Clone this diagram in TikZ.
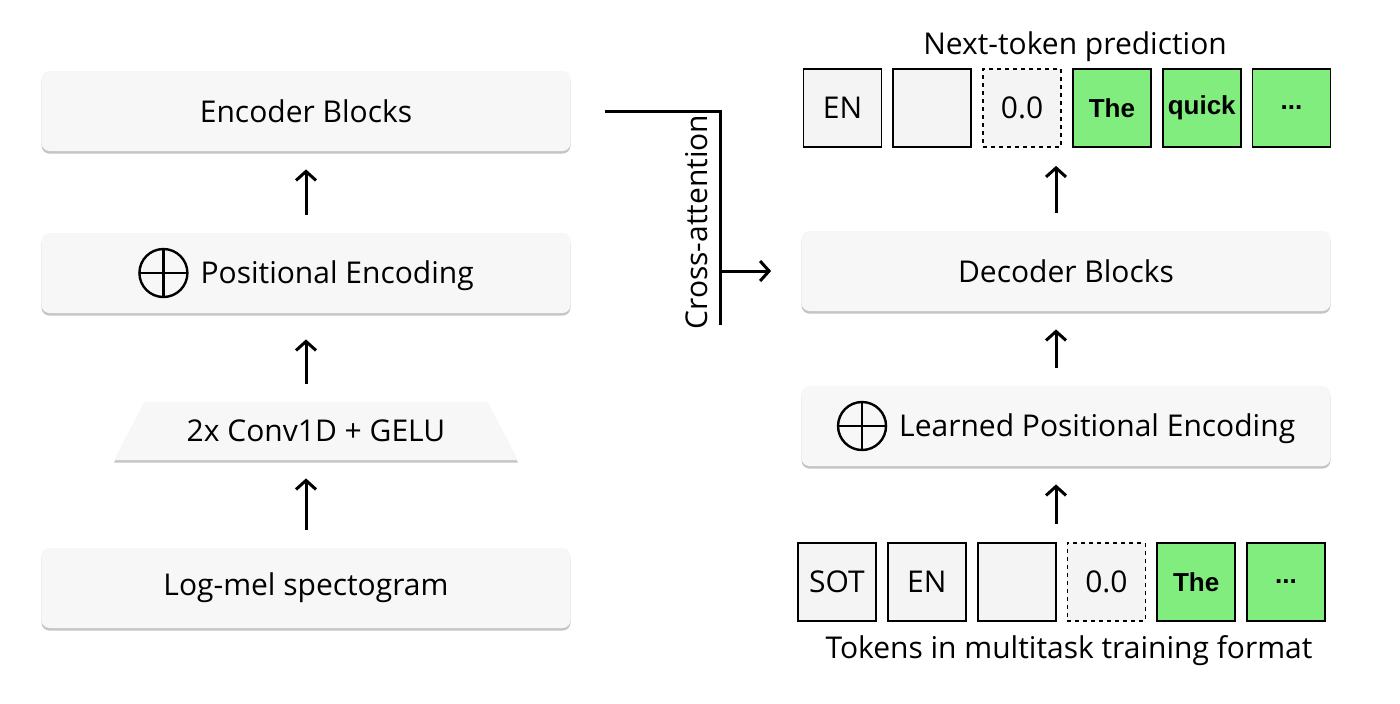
\documentclass[tikz,border=0pt]{standalone}
\usepackage{fontspec}
\setmainfont{Open Sans}
\newfontfamily\grassetto{Liberation Sans}
\usetikzlibrary{positioning,shapes.geometric,shadows,arrows.meta}

\definecolor{grigiobox}{RGB}{247,247,247}
\definecolor{grigiotok}{RGB}{244,244,244}
\definecolor{verdetok}{RGB}{128,237,126}

% simbolo della somma (cerchio con croce)
\newcommand{\simbolosomma}{\tikz[baseline=-0.35em, line width=1.2pt]{\draw (0,0) circle (12pt); \draw (-12pt,0) -- (12pt,0) (0,-12pt) -- (0,12pt);}}

\begin{document}
\begin{tikzpicture}[
		x=0.5pt, y=-0.5pt,
		font=\fontsize{15}{18}\selectfont,
		% Stile per i blocchi grandi (encoder / decoder)
		blocco/.style={rectangle, rounded corners=4pt, fill=grigiobox, minimum width=264.5pt, minimum height=40pt,
			drop shadow={shadow xshift=0pt, shadow yshift=-1.3pt, fill=black!45, opacity=0.5}},
		% Stile per il trapezio della convoluzione
		trapezio/.style={trapezium, trapezium angle=56, trapezium stretches=true, fill=grigiobox,
			minimum width=202pt, minimum height=29pt,
			drop shadow={shadow xshift=0pt, shadow yshift=-1.3pt, fill=black!45, opacity=0.5}},
		% Stile per i token
		token/.style={rectangle, draw=black, line width=0.9pt, fill=grigiotok, minimum size=39pt, inner sep=0pt},
		tokenverde/.style={token, fill=verdetok, font=\grassetto\fontsize{13}{15}\selectfont\bfseries},
		tokentratt/.style={token, dash pattern=on 2pt off 2pt},
		% Stile per le frecce
		freccia/.style={line width=1.5pt, -{Straight Barb[length=4.5pt, width=10pt]}, shorten >=9pt, shorten <=9pt},
		linea/.style={line width=1.5pt}
	]

	\useasboundingbox[fill=white] (0,0) rectangle (1400,703);

	% =================================
	% COLONNA SINISTRA (Encoder)
	% =================================
	\node[blocco] (enc) at (306,111) {Encoder Blocks};
	\node[blocco] (pos) at (306,273) {\simbolosomma\hspace{6pt}Positional Encoding};
	\node[trapezio] (conv) at (316,431) {2x Conv1D + GELU};
	\node[blocco] (mel) at (306,588) {Log-mel spectogram};

	% =================================
	% COLONNA DESTRA (Decoder)
	% =================================
	\node[blocco] (dec) at (1066,271) {Decoder Blocks};
	\node[blocco] (lpe) at (1066,426) {\simbolosomma\hspace{6pt}Learned Positional Encoding};

	% Token in alto (predizione)
	\node[token] (o1) at (842.5,108) {EN};
	\node[token, right=5pt of o1] (o2) {};
	\node[tokentratt, right=5pt of o2] (o3) {0.0};
	\node[tokenverde, right=5pt of o3] (o4) {The};
	\node[tokenverde, right=5pt of o4] (o5) {quick};
	\node[tokenverde, right=5pt of o5] (o6) {...};
	\node (titolo) at (1075,47) {Next-token prediction};

	% Token in basso (ingresso)
	\node[token] (i1) at (837,582) {SOT};
	\node[token, right=5pt of i1] (i2) {EN};
	\node[token, right=5pt of i2] (i3) {};
	\node[tokentratt, right=5pt of i3] (i4) {0.0};
	\node[tokenverde, right=5pt of i4] (i5) {The};
	\node[tokenverde, right=5pt of i5] (i6) {...};
	\node (formato) at (1069,651) {Tokens in multitask training format};

	% =================================
	% CROSS-ATTENTION
	% =================================
	\coordinate (cabasso) at (720,325);
	\node[rotate=90] (catesto) at (697,222) {Cross-attention};
	\draw[linea, shorten <=17pt] (enc.east) -| (cabasso);
	\draw[freccia, shorten <=0pt, shorten >=15pt] (cabasso |- dec.west) -- (dec.west);

	% =================================
	% CONNESSIONI (Frecce)
	% =================================
	\draw[freccia] (mel.north) -- (mel.north |- conv.south);
	\draw[freccia, shorten >=13pt] (pos.south |- conv.north) -- (pos.south);
	\draw[freccia] (pos) -- (enc);

	\draw[freccia] ([xshift=-5pt]lpe.south |- i3.north) -- ([xshift=-5pt]lpe.south);
	\draw[freccia] ([xshift=-5pt]lpe.north) -- ([xshift=-5pt]dec.south);
	\draw[freccia] ([xshift=-5pt]dec.north) -- ([xshift=-5pt]dec.north |- o1.south);

\end{tikzpicture}
\end{document}
